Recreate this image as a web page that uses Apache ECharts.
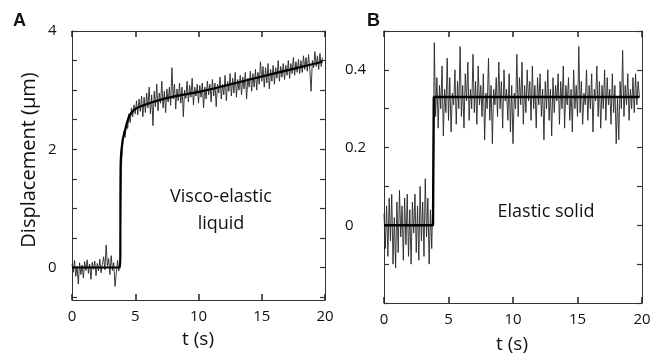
<!DOCTYPE html>
<html>
<head>
<meta charset="utf-8">
<script src="https://cdn.jsdelivr.net/npm/echarts@6/dist/echarts.min.js"></script>
<style>
html,body{margin:0;padding:0;background:#fff;}
#c{width:662px;height:358px;}
</style>
</head>
<body>
<div id="c"></div>
<script>
// ---------- data ----------
const sampleStep = 0.1;            // s between trace samples
// Panel A (visco-elastic liquid): raw trace before the step (t = 0 .. 3.8 s)
const traceA_pre = [0.05,-0.08,0.12,-0.15,0.02,-0.28,0.08,-0.12,0.04,-0.18,0.1,-0.05,0.13,-0.1,0.06,-0.2,0.09,-0.03,0.11,-0.14,0.07,-0.06,0.14,-0.09,0.05,0.18,-0.04,0.38,0.02,0.15,-0.12,0.2,-0.05,0.08,-0.32,-0.1,0.12,-0.06,0.14];
// Panel A raw trace after the step (t = 3.9 .. 19.8 s)
const traceA_post = [1.7,2.05,2.3,2.2,2.45,2.35,2.6,2.45,2.7,2.55,2.75,2.6,2.82,2.58,2.85,2.64,2.9,2.55,2.88,2.62,2.95,2.7,3.05,2.6,2.92,2.4,2.98,2.72,3.1,2.65,2.95,2.78,3.15,2.7,2.98,2.62,3.02,2.8,3.05,2.74,3.38,2.85,3.1,2.68,3.02,2.82,3.12,2.78,3.05,2.55,3.0,2.86,3.15,2.8,3.08,2.88,3.2,2.75,3.05,2.9,3.1,2.78,3.08,2.88,3.12,2.7,3.05,2.85,3.15,2.92,3.1,2.8,3.18,2.9,3.12,2.72,3.1,2.95,3.22,2.85,3.1,2.92,3.25,2.82,3.15,2.98,3.28,2.9,3.2,2.95,3.3,2.88,3.18,3.0,3.25,2.92,3.22,3.02,3.3,2.85,3.2,3.05,3.32,2.98,3.28,3.05,3.35,3.0,3.3,3.1,3.48,3.15,3.4,3.05,3.38,3.12,3.45,3.02,3.35,3.15,3.42,3.1,3.38,3.2,3.5,3.15,3.4,3.22,3.45,3.18,3.42,3.25,3.5,3.2,3.45,3.28,3.55,3.25,3.48,3.3,3.52,3.28,3.5,3.3,3.58,3.35,3.55,3.32,3.6,3.35,2.98,3.5,3.38,3.65,3.4,3.58,3.35,3.62,3.4,3.55];
// Panel A fitted curve
const fitA_t = [0,3.8,3.85,4.0,4.25,4.5,4.75,5.0,5.5,6.4,8,10,12,15,17.5,19.8];
const fitA_y = [0,0,1.8,2.15,2.37,2.55,2.63,2.68,2.73,2.8,2.89,2.97,3.07,3.23,3.36,3.48];

// Panel B (elastic solid): raw trace before the step (t = 0 .. 3.8 s)
const traceB_pre = [0.03,-0.06,0.05,-0.08,0.07,-0.04,0.08,-0.1,0.02,-0.11,0.06,-0.07,0.09,-0.03,0.05,-0.09,0.07,-0.05,0.08,-0.08,0.04,-0.1,0.06,-0.02,0.08,-0.07,0.05,-0.09,0.1,-0.04,0.06,-0.08,0.12,-0.03,0.07,-0.1,0.04,-0.06,0.09];
// Panel B raw trace after the step (t = 3.9 .. 19.8 s)
const traceB_post = [0.47,0.28,0.38,0.25,0.36,0.3,0.41,0.23,0.35,0.29,0.43,0.27,0.38,0.24,0.34,0.31,0.4,0.26,0.37,0.3,0.46,0.28,0.36,0.25,0.39,0.32,0.42,0.27,0.35,0.3,0.44,0.29,0.37,0.26,0.41,0.31,0.36,0.28,0.39,0.22,0.34,0.3,0.43,0.27,0.36,0.21,0.35,0.31,0.38,0.28,0.42,0.3,0.37,0.25,0.4,0.32,0.35,0.27,0.39,0.24,0.36,0.21,0.34,0.3,0.44,0.28,0.38,0.31,0.42,0.26,0.36,0.29,0.4,0.32,0.37,0.27,0.41,0.3,0.36,0.25,0.38,0.31,0.39,0.28,0.35,0.22,0.37,0.3,0.4,0.27,0.35,0.23,0.38,0.29,0.36,0.32,0.39,0.26,0.37,0.3,0.41,0.25,0.36,0.31,0.38,0.27,0.35,0.24,0.4,0.3,0.36,0.28,0.46,0.29,0.37,0.26,0.34,0.31,0.4,0.27,0.36,0.3,0.39,0.24,0.35,0.32,0.41,0.28,0.37,0.25,0.36,0.3,0.4,0.27,0.38,0.31,0.35,0.26,0.39,0.29,0.36,0.21,0.33,0.22,0.37,0.3,0.45,0.28,0.36,0.31,0.39,0.27,0.35,0.3,0.38,0.29,0.39,0.31,0.37,0.33];
// Panel B fitted curve
const fitB_t = [0,3.8,3.86,19.8];
const fitB_y = [0,0,0.33,0.33];

// Axis ticks and labels
const xTicks = [0,5,10,15,20];
const yTicksA = [-0.5,0,0.5,1,1.5,2,2.5,3,3.5,4];
const yLabelsA = [0,2,4];
const yTicksB = [-0.2,-0.1,0,0.1,0.2,0.3,0.4,0.5];
const yLabelsB = [0,0.2,0.4];
const postStart = 3.9;

// ---------- build ----------
function buildTrace(pre, post){
  const out = [];
  pre.forEach((v,i)=>out.push([+(i*sampleStep).toFixed(2), v]));
  post.forEach((v,i)=>out.push([+(postStart+i*sampleStep).toFixed(2), v]));
  return out;
}
function zip(a,b){return a.map((v,i)=>[v,b[i]]);}

const FONT = '"Open Sans", "DejaVu Sans", sans-serif';
const TXT = '#111';
const AX = '#333';
const chart = echarts.init(document.getElementById('c'), null, {renderer:'canvas'});

function xAx(gi, pos, showLabel){
  return {
    type:'value', gridIndex:gi, position:pos, min:0, max:20, interval:5,
    axisLine:{show:true, onZero:false, lineStyle:{color:AX, width:1}},
    axisTick:{show:true, inside:true, length:6, lineStyle:{color:'#222', width:1.5}},
    axisLabel:{show:showLabel, margin:9, fontSize:15, color:TXT, fontFamily:FONT},
    splitLine:{show:false}
  };
}
function yAx(gi, pos, min, max, ticks, labels, showLabel, margin){
  return {
    type:'value', gridIndex:gi, position:pos, min:min, max:max,
    axisLine:{show:true, onZero:false, lineStyle:{color:AX, width:1}},
    axisTick:{show:true, inside:true, length:5, customValues:ticks, lineStyle:{color:AX, width:1.2}},
    axisLabel:{show:showLabel, margin:margin, align:'left', fontSize:15, color:TXT, fontFamily:FONT, customValues:labels,
      formatter:v=>String(+v.toFixed(2))},
    splitLine:{show:false}
  };
}

const option = {
  animation:false,
  backgroundColor:'#fff',
  grid:[
    {left:72, top:31, width:253, height:269},
    {left:384, top:31, width:258, height:272}
  ],
  xAxis:[ xAx(0,'bottom',true), xAx(0,'top',false), xAx(1,'bottom',true), xAx(1,'top',false) ],
  yAxis:[
    yAx(0,'left',-0.55,4,yTicksA,yLabelsA,true,24),
    yAx(0,'right',-0.55,4,yTicksA,yLabelsA,false,0),
    yAx(1,'left',-0.2,0.5,yTicksB,yLabelsB,true,39),
    yAx(1,'right',-0.2,0.5,yTicksB,yLabelsB,false,0)
  ],
  series:[
    {type:'line', xAxisIndex:0, yAxisIndex:0, data:buildTrace(traceA_pre,traceA_post), showSymbol:false, lineStyle:{color:'#262626', width:0.9}, z:2},
    {type:'line', xAxisIndex:0, yAxisIndex:0, data:zip(fitA_t,fitA_y), showSymbol:false, smooth:0.3, lineStyle:{color:'#000', width:2.2}, z:3},
    {type:'line', xAxisIndex:2, yAxisIndex:2, data:buildTrace(traceB_pre,traceB_post), showSymbol:false, lineStyle:{color:'#262626', width:0.9}, z:2},
    {type:'line', xAxisIndex:2, yAxisIndex:2, data:zip(fitB_t,fitB_y), showSymbol:false, lineStyle:{color:'#000', width:2.4}, z:3}
  ],
  graphic:[
    {type:'text', left:13, top:12, style:{text:'A', font:'bold 18px "Liberation Sans", Arial, sans-serif', fill:'#111'}},
    {type:'text', left:367, top:12, style:{text:'B', font:'bold 18px "Liberation Sans", Arial, sans-serif', fill:'#111'}},
    {type:'text', x:29, y:160, rotation:Math.PI/2, style:{text:'Displacement (µm)', font:'20px '+FONT, fill:TXT, align:'center', verticalAlign:'middle'}},
    {type:'text', x:198, y:340, style:{text:'t (s)', font:'19px '+FONT, fill:TXT, align:'center', verticalAlign:'middle'}},
    {type:'text', x:512, y:345, style:{text:'t (s)', font:'19px '+FONT, fill:TXT, align:'center', verticalAlign:'middle'}},
    {type:'text', x:221, y:197, style:{text:'Visco-elastic', font:'18px '+FONT, fill:TXT, align:'center', verticalAlign:'middle'}},
    {type:'text', x:221, y:224, style:{text:'liquid', font:'18px '+FONT, fill:TXT, align:'center', verticalAlign:'middle'}},
    {type:'text', x:546, y:212, style:{text:'Elastic solid', font:'18px '+FONT, fill:TXT, align:'center', verticalAlign:'middle'}}
  ]
};
chart.setOption(option);
</script>
</body>
</html>
